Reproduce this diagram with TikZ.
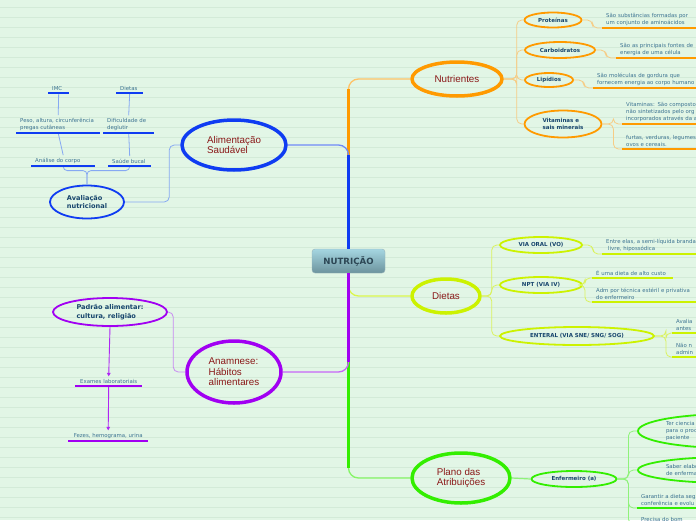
\documentclass[tikz,border=0pt]{standalone}
\usepackage{fontspec}
\setmainfont{DejaVu Sans}
\newfontfamily\redfont{Liberation Sans}
\usetikzlibrary{arrows.meta, calc, shapes.geometric}
\definecolor{bgcol}{HTML}{E2F6E6}
\definecolor{rulecol}{HTML}{D3EBD8}
\definecolor{ocol}{HTML}{FF9A00}
\definecolor{olight}{HTML}{F6CC85}
\definecolor{bcol}{HTML}{0F3CF2}
\definecolor{blight}{HTML}{86A9F2}
\definecolor{ycol}{HTML}{CCF200}
\definecolor{ylight}{HTML}{DAF25E}
\definecolor{pcol}{HTML}{A100F2}
\definecolor{plight}{HTML}{C98AF2}
\definecolor{gcol}{HTML}{33EE00}
\definecolor{glight}{HTML}{8FF27A}
\definecolor{redtxt}{HTML}{8A1818}
\definecolor{navytxt}{HTML}{17456D}
\definecolor{leaftxt}{HTML}{3C7391}
\definecolor{ctrtop}{HTML}{A5D6E1}
\definecolor{ctrbot}{HTML}{6C939D}
\definecolor{ctrtxt}{HTML}{2C4654}

\begin{document}
\begin{tikzpicture}[x=1pt, y=-1pt, >={Triangle[length=3.5pt, width=3.5pt]},
  ctrbox/.style={rectangle, rounded corners=3pt, top color=ctrtop, bottom color=ctrbot, draw=ctrbot!70, minimum width=73pt, minimum height=24pt, font=\bfseries\fontsize{8.6}{10}\selectfont, text=ctrtxt},
  mainnode/.style={ellipse, draw=#1, line width=3.5pt, inner sep=0pt, align=left, font=\redfont\fontsize{9.8}{10.5}\selectfont, text=redtxt},
  subnode/.style={ellipse, draw=#1, line width=1.8pt, inner sep=0pt, align=center, font=\bfseries\fontsize{5.5}{6.5}\selectfont, text=navytxt},
  leaf/.style={anchor=south west, text width=#1, align=left, inner xsep=4pt, inner ysep=2.5pt, font=\fontsize{5.4}{7}\selectfont, text=leaftxt},
  uline/.style={draw=#1, line width=2pt},
  link/.style={draw=#1, line width=0.8pt, rounded corners=5pt},
  trunk/.style={draw=#1, line width=1.3pt, rounded corners=10pt},
  stem/.style={draw=#1, line width=2.3pt}]
\useasboundingbox (0,0) rectangle (696,520);
\clip (0,0) rectangle (696,520);
\fill[bgcol] (0,0) rectangle (696,520);
\foreach \y in {7,17,...,517}
  \draw[rulecol, line width=0.6pt] (0,\y) -- (696,\y);

\node[ctrbox] (ctr) at (348.5,261) {NUTRIÇÃO};
\node[mainnode=ocol, minimum width=90pt, minimum height=34pt] (nut) at (457,79) {Nutrientes};
\node[mainnode=bcol, minimum width=104pt, minimum height=50pt] (alim) at (234,145) {Alimentação\\Saudável};
\node[mainnode=ycol, minimum width=68pt, minimum height=34pt] (diet) at (446,296) {Dietas};
\node[mainnode=pcol, minimum width=94pt, minimum height=62pt] (anam) at (234,372) {Anamnese:\\Hábitos\\alimentares};
\node[mainnode=gcol, minimum width=98pt, minimum height=50pt] (plano) at (461,478) {Plano das\\Atribuições};

\draw[trunk=ocol!60] (ctr.north) |- (nut.west);
\draw[stem=ocol] (ctr.north) -- ($(ctr.north |- nut.west)+(0,10)$);
\draw[trunk=bcol!60] (ctr.north) |- (alim.east);
\draw[stem=bcol] (ctr.north) -- ($(ctr.north |- alim.east)+(0,10)$);
\draw[trunk=gcol!60] (ctr.south) |- (plano.west);
\draw[stem=gcol] (ctr.south) -- ($(ctr.south |- plano.west)+(0,-10)$);
\draw[trunk=ycol!70] (ctr.south) |- (diet.west);
\draw[trunk=pcol!60] (ctr.south) |- (anam.east);
\draw[stem=pcol] (ctr.south) -- ($(ctr.south |- anam.east)+(0,-10)$);

\node[subnode=ocol, minimum width=57pt, minimum height=15pt] (prot) at (553,20) {Proteínas};
\node[subnode=ocol, minimum width=70pt, minimum height=16pt] (carb) at (560,50) {Carboidratos};
\node[subnode=ocol, minimum width=48pt, minimum height=14pt] (lip) at (549,80) {Lipídios};
\node[subnode=ocol, minimum width=77pt, minimum height=27pt, align=left] (vit) at (563,124) {Vitaminas e\\sais minerais};
\draw[link=olight] (nut.east) -- ++(13,0) |- (prot.west);
\draw[link=olight] (nut.east) -- ++(13,0) |- (carb.west);
\draw[link=olight] (nut.east) -- ++(13,0) |- (lip.west);
\draw[link=olight] (nut.east) -- ++(13,0) |- (vit.west);

\node[leaf=120pt] (p1) at (602,28) {São substâncias formadas por\\um conjunto de aminoácidos};
\node[leaf=120pt] (c1) at (616,58) {São as principais fontes de\\energia de uma célula};
\node[leaf=120pt] (l1) at (593,88) {São moléculas de gordura que\\fornecem energia ao corpo humano};
\node[leaf=120pt] (v1) at (622,124) {Vitaminas: São compostos\\não sintetizados pelo org\\incorporados através da a};
\node[leaf=120pt] (v2) at (622,149) {furtas, verduras, legumes\\ovos e cereais.};
\draw[link=olight] (prot.east) -- ++(10,0) |- (p1.south west);
\draw[link=olight] (carb.east) -- ++(10,0) |- (c1.south west);
\draw[link=olight] (lip.east) -- ++(10,0) |- (l1.south west);
\draw[link=olight] (vit.east) -- ++(11,0) |- (v1.south west);
\draw[link=olight] (vit.east) -- ++(11,0) |- (v2.south west);
\draw[uline=ocol] (p1.south west) -- (p1.south east);
\draw[uline=ocol] (c1.south west) -- (c1.south east);
\draw[uline=ocol] (l1.south west) -- (l1.south east);
\draw[uline=ocol] (v1.south west) -- (v1.south east);
\draw[uline=ocol] (v2.south west) -- (v2.south east);

\node[subnode=ycol, minimum width=82pt, minimum height=16pt] (vo) at (541,245) {VIA ORAL (VO)};
\node[subnode=ycol, minimum width=82pt, minimum height=16pt] (npt) at (541,285) {NPT (VIA IV)};
\node[subnode=ycol, minimum width=154pt, minimum height=18pt] (ent) at (577,336) {ENTERAL (VIA SNE/ SNG/ SOG)};
\draw[link=ylight] (diet.east) -- ++(10,0) |- (vo.west);
\draw[link=ylight] (diet.east) -- ++(10,0) |- (npt.west);
\draw[link=ylight] (diet.east) -- ++(10,0) |- (ent.west);

\node[leaf=120pt] (vo1) at (602,254) {Entre elas, a semi-líquida branda\\\hspace*{2pt}livre, hipossódica};
\node[leaf=73pt] (n1) at (592,278) {É uma dieta de alto custo};
\node[leaf=120pt] (n2) at (592,302) {Adm por técnica estéril e privativa\\do enfermeiro};
\node[leaf=60pt] (e1) at (672,333) {Avalia\\antes};
\node[leaf=60pt] (e2) at (672,357) {Não n\\admin};
\draw[link=ylight] (vo.east) -- ++(10,0) |- (vo1.south west);
\draw[link=ylight] (npt.east) -- ++(2,0) |- (n1.south west);
\draw[link=ylight] (npt.east) -- ++(2,0) |- (n2.south west);
\draw[link=ylight] (ent.east) -- ++(11,0) |- (e1.south west);
\draw[link=ylight] (ent.east) -- ++(11,0) |- (e2.south west);
\draw[uline=ycol] (vo1.south west) -- (vo1.south east);
\draw[uline=ycol] (n1.south west) -- (n1.south east);
\draw[uline=ycol] (n2.south west) -- (n2.south east);
\draw[uline=ycol] (e1.south west) -- (e1.south east);
\draw[uline=ycol] (e2.south west) -- (e2.south east);

\node[subnode=gcol, minimum width=85pt, minimum height=16pt] (enf) at (574,479) {Enfermeiro (a)};
\node[subnode=gcol, minimum width=184pt, minimum height=34pt, text width=128pt, align=left, font=\fontsize{5.4}{7}\selectfont, text=leaftxt] (ter) at (730,431) {Ter ciencia\\para o proc\\paciente};
\node[subnode=gcol, minimum width=184pt, minimum height=26pt, text width=128pt, align=left, font=\fontsize{5.4}{7}\selectfont, text=leaftxt] (sab) at (730,470) {Saber elabo\\de enferma};
\node[leaf=120pt] (g1) at (637,508) {Garantir a dieta seg\\conferência e evolu};
\node[leaf=120pt] (pr1) at (637,524) {Precisa do bom};
\draw[link=glight, line width=1.2pt] (plano.east) -- (enf.west);
\draw[link=glight] (enf.east) -- ++(11,0) |- (ter.west);
\draw[link=glight] (enf.east) -- ++(11,0) |- (sab.west);
\draw[link=glight] (enf.east) -- ++(11,0) |- (g1.south west);
\draw[link=glight] (enf.east) -- ++(11,0) |- (pr1.south west);
\draw[uline=gcol] (g1.south west) -- (g1.south east);
\draw[uline=gcol] (pr1.south west) -- (pr1.south east);

\node[subnode=bcol, minimum width=74pt, minimum height=33pt, align=left, font=\bfseries\fontsize{6.6}{8.5}\selectfont] (aval) at (87,202) {Avaliação\\nutricional};
\node[leaf=56pt] (ana) at (31,166) {Análise do corpo};
\node[leaf=35pt] (sau) at (108,166) {Saúde bucal};
\node[leaf=76pt] (peso) at (16,133) {Peso, altura, circunferência\\pregas cutâneas};
\node[leaf=43pt] (dif) at (103,133) {Dificuldade de\\deglutir};
\node[leaf=13pt] (imc) at (48,93) {IMC};
\node[leaf=19pt] (dts) at (116,93) {Dietas};
\draw[link=blight] (alim.west) -- ++(-11,0) |- (aval.east);
\draw[link=blight, rounded corners=4pt] (aval.north) -- ++(0,-14) -| (ana.south);
\draw[link=blight, rounded corners=4pt] (aval.north) -- ++(0,-14) -| (sau.south);
\draw[link=blight] (ana.north) -- (peso.south);
\draw[link=blight] (peso.north) -- (imc.south);
\draw[link=blight] (sau.north) -- (dif.south);
\draw[link=blight] (dif.north) -- (dts.south);
\draw[uline=bcol] (ana.south west) -- (ana.south east);
\draw[uline=bcol] (sau.south west) -- (sau.south east);
\draw[uline=bcol] (peso.south west) -- (peso.south east);
\draw[uline=bcol] (dif.south west) -- (dif.south east);
\draw[uline=bcol] (imc.south west) -- (imc.south east);
\draw[uline=bcol] (dts.south west) -- (dts.south east);

\node[subnode=pcol, minimum width=114pt, minimum height=28pt, align=left, font=\bfseries\fontsize{6.6}{8.5}\selectfont] (padr) at (110,312) {Padrão alimentar:\\cultura, religião};
\node[leaf=63pt, inner xsep=2pt, align=center] (exa) at (75,386) {Exames laboratoriais};
\node[leaf=76pt, inner xsep=2pt, align=center] (fez) at (68,441) {Fezes, hemograma, urina};
\draw[link=plight] (anam.west) -- ++(-12,0) |- (padr.east);
\draw[->, pcol!85, line width=0.9pt] (padr.south) -- (exa.north);
\draw[->, pcol!85, line width=0.9pt] (exa.south) -- (fez.north);
\draw[uline=pcol] (exa.south west) -- (exa.south east);
\draw[uline=pcol] (fez.south west) -- (fez.south east);
\end{tikzpicture}
\end{document}
